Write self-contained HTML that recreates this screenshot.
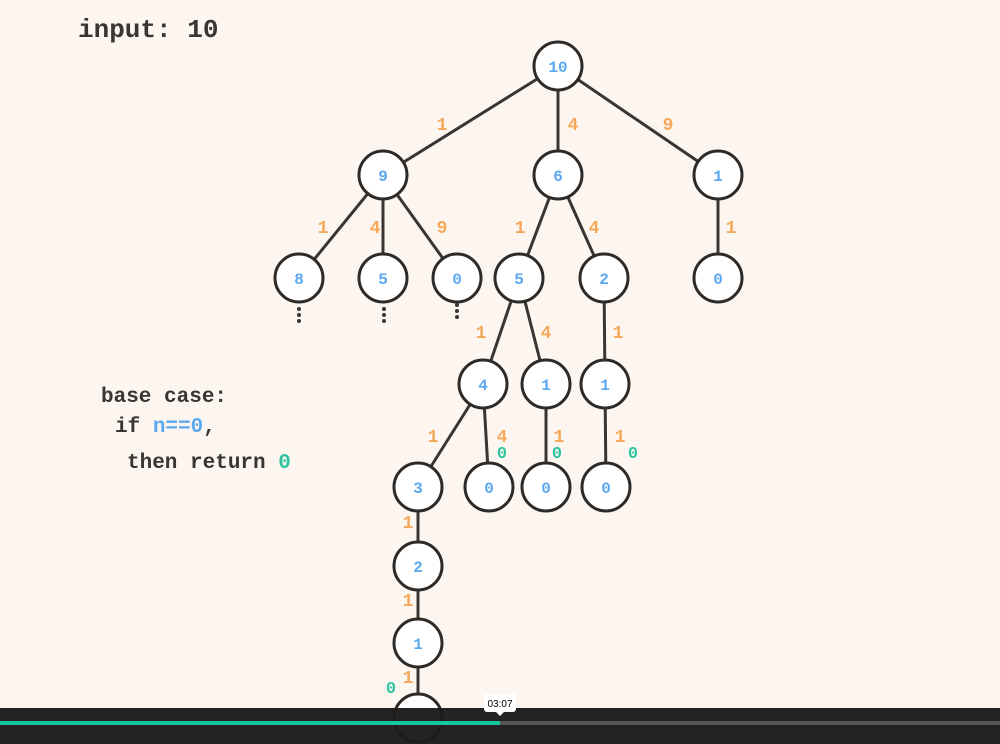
<!DOCTYPE html>
<html><head><style>
html,body{margin:0;padding:0;background:#fdf6f0;}
svg{display:block}
text{font-family:"Liberation Mono",monospace;font-weight:bold}
</style></head><body>
<svg width="1000" height="744" viewBox="0 0 1000 744">
<rect width="1000" height="744" fill="#fdf6f0"/>
<text x="78" y="37" font-size="26" fill="#3a3530">input: 10</text>
<text x="101" y="402" font-size="21" fill="#3a3530">base case:</text>
<text x="115" y="432" font-size="21" fill="#3a3530">if <tspan fill="#5aa8f0">n==0</tspan>,</text>
<text x="127" y="468" font-size="21" fill="#3a3530">then return <tspan fill="#2ec4a0">0</tspan></text>
<g stroke="#3a3530" stroke-width="3">
<line x1="558" y1="66" x2="383" y2="175"/><line x1="558" y1="66" x2="558" y2="175"/><line x1="558" y1="66" x2="718" y2="175"/>
<line x1="383" y1="175" x2="299" y2="278"/><line x1="383" y1="175" x2="383" y2="278"/><line x1="383" y1="175" x2="457" y2="278"/>
<line x1="558" y1="175" x2="519" y2="278"/><line x1="558" y1="175" x2="604" y2="278"/>
<line x1="718" y1="175" x2="718" y2="278"/>
<line x1="519" y1="278" x2="483" y2="384"/><line x1="519" y1="278" x2="546" y2="384"/>
<line x1="604" y1="278" x2="605" y2="384"/>
<line x1="483" y1="384" x2="418" y2="487"/><line x1="483" y1="384" x2="489" y2="487"/>
<line x1="546" y1="384" x2="546" y2="487"/><line x1="605" y1="384" x2="606" y2="487"/>
<line x1="418" y1="487" x2="418" y2="718"/>
</g>
<g fill="#3a3530">
<circle cx="299" cy="309" r="2"/><circle cx="299" cy="315" r="2"/><circle cx="299" cy="321" r="2"/>
<circle cx="384" cy="309" r="2"/><circle cx="384" cy="315" r="2"/><circle cx="384" cy="321" r="2"/>
<circle cx="457" cy="305" r="2"/><circle cx="457" cy="311" r="2"/><circle cx="457" cy="317" r="2"/>
</g>
<g fill="#fff" stroke="#2e2a27" stroke-width="3">
<circle cx="558" cy="66" r="24"/>
<circle cx="383" cy="175" r="24"/><circle cx="558" cy="175" r="24"/><circle cx="718" cy="175" r="24"/>
<circle cx="299" cy="278" r="24"/><circle cx="383" cy="278" r="24"/><circle cx="457" cy="278" r="24"/><circle cx="519" cy="278" r="24"/><circle cx="604" cy="278" r="24"/><circle cx="718" cy="278" r="24"/>
<circle cx="483" cy="384" r="24"/><circle cx="546" cy="384" r="24"/><circle cx="605" cy="384" r="24"/>
<circle cx="418" cy="487" r="24"/><circle cx="489" cy="487" r="24"/><circle cx="546" cy="487" r="24"/><circle cx="606" cy="487" r="24"/>
<circle cx="418" cy="566" r="24"/><circle cx="418" cy="643" r="24"/><circle cx="418" cy="718" r="24"/>
</g>
<g font-size="16" fill="#5aa8f0" text-anchor="middle">
<text x="558" y="72">10</text>
<text x="383" y="181">9</text><text x="558" y="181">6</text><text x="718" y="181">1</text>
<text x="299" y="284">8</text><text x="383" y="284">5</text><text x="457" y="284">0</text><text x="519" y="284">5</text><text x="604" y="284">2</text><text x="718" y="284">0</text>
<text x="483" y="390">4</text><text x="546" y="390">1</text><text x="605" y="390">1</text>
<text x="418" y="493">3</text><text x="489" y="493">0</text><text x="546" y="493">0</text><text x="606" y="493">0</text>
<text x="418" y="572">2</text><text x="418" y="649">1</text>
</g>
<g font-size="18" fill="#f5a85a" text-anchor="middle">
<text x="442" y="130">1</text><text x="573" y="130">4</text><text x="668" y="130">9</text>
<text x="323" y="233">1</text><text x="375" y="233">4</text><text x="442" y="233">9</text>
<text x="520" y="233">1</text><text x="594" y="233">4</text><text x="731" y="233">1</text>
<text x="481" y="338">1</text><text x="546" y="338">4</text><text x="618" y="338">1</text>
<text x="433" y="442">1</text><text x="502" y="442">4</text><text x="559" y="442">1</text><text x="620" y="442">1</text>
<text x="408" y="528">1</text><text x="408" y="606">1</text><text x="408" y="683">1</text>
</g>
<g font-size="17" fill="#2ec4a0" text-anchor="middle">
<text x="502" y="458">0</text><text x="557" y="458">0</text><text x="633" y="458">0</text><text x="391" y="693">0</text>
</g>
<rect x="0" y="708" width="1000" height="36" fill="#1c1c1c" fill-opacity="0.97"/>
<rect x="0" y="721" width="1000" height="4" fill="#555"/>
<rect x="0" y="721" width="500" height="4" fill="#14c7a0"/>
<rect x="484" y="694" width="32" height="18" rx="3" fill="#fff"/>
<polygon points="496,712 504,712 500,716" fill="#fff"/>
<text x="500" y="707" font-size="10" fill="#000" text-anchor="middle" style="font-family:'Liberation Sans',sans-serif;font-weight:normal">03:07</text>
</svg>
</body></html>
